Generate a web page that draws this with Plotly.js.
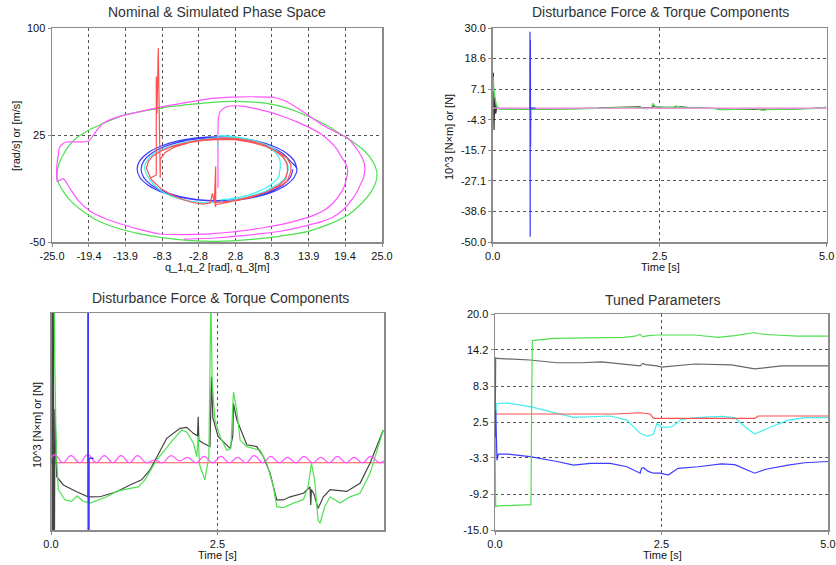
<!DOCTYPE html>
<html><head><meta charset="utf-8">
<script src="https://cdn.plot.ly/plotly-3.0.1.min.js"></script>
<style>html,body{margin:0;padding:0;background:#fff;}#chart{width:836px;height:565px;}</style>
</head><body><div id="chart"></div>
<script>
// ---------- Plot 1: phase space ----------
const phXTicks = [-25.0,-19.4,-13.9,-8.3,-2.8,2.8,8.3,13.9,19.4,25.0];
const phYTicks = [-50,25,100];
const phGreenX = [-0.3,2.5,5,7.3,10.5,13.8,16.5,18.9,20.8,22.4,23.6,24.2,24.1,23.4,22,19.9,17,13.8,9.5,4.7,-0.05,-4.5,-8.6,-12.2,-15.2,-18.2,-20.3,-22.1,-23.3,-24.1,-24.2,-23.9,-23.3,-22.5,-21.3,-19.7,-17.7,-14.2,-11.5,-8.6,-4.5,-0.3];
const phGreenY = [48.1,48.5,48.2,47.4,44,38.1,32,25.2,19.5,13.6,6.5,-0.4,-7.5,-14.5,-22.5,-30.9,-37.5,-42.5,-46,-48.4,-49.5,-48.8,-46.7,-43.8,-40.2,-34.8,-28.5,-21.5,-14.5,-7.5,-0.4,5.5,11.2,17,22.9,27.7,32.2,38.8,41.5,43.9,46.3,48.1];
const phMagX = [0.15,0.15,0.15,0.2,0.5,1.3,2.5,4,5.8,8,10,12.2,14.1,15.8,17,18.1,18.8,19.5,19.8,19.6,19.2,18.5,17.5,16.3,14.8,12.5,10,7,4,1,-2,-5,-8.6,-11.5,-14.2,-17,-19.2,-21,-22.3,-23.3,-24.2,-24.3,-24.2,-24.0,-23.9,-23.3,-22.8,-19.5,-18.7,-18,-17.2,-15.2,-12,-8.6,-5,-1,2.4,5.5,8.3,10,12,14.1,16,18,19.8,21.2,22.1,22.4,22.2,21.7,21.2,20.5,19.2,17.6,16,14,12,9.8,7,4,-0.3,-5];
const phMagY = [-12,0,20,36,41.5,44.5,45.5,45,43.5,41,38,34,30,25.5,21,15.5,10,5,-0.2,-6,-12,-17.5,-23,-27.5,-31,-34.5,-37.5,-40,-42,-43.5,-44.5,-44.8,-44.4,-41.5,-37.9,-33.5,-28.5,-21,-12.2,-5.6,-7.5,0,6.6,12.5,15.9,19,20.1,20.6,25.2,29.5,33.4,37.4,41,44.5,47.5,50.5,51.6,51.8,51.5,49.5,44.5,38,32,27,22.9,15,8,1.9,-5,-10,-15,-20,-27,-32.5,-35.5,-38,-40.3,-42.3,-44,-45.5,-47.2,-48];
const phBlueX = [12.1,11.69,10.48,8.55,6.05,3.13,0,-3.13,-6.05,-8.55,-10.48,-11.69,-12.1,-11.69,-10.48,-8.55,-6.05,-3.13,0,3.13,6.05,8.55,10.48,11.69,12.1,11.11,9.96,8.13,5.75,2.98,0,-2.98,-5.75,-8.13,-9.96,-11.11,-11.5,-11.11,-9.96,-8.13,-5.75,-2.98,0,2.98,5.75,8.13,9.96,11.11,11.5];
const phBlueY = [1.2,7.03,12.45,17.11,20.69,22.94,23.7,22.94,20.69,17.11,12.45,7.03,1.2,-4.63,-10.05,-14.71,-18.29,-20.54,-21.3,-20.54,-18.29,-14.71,-10.05,-4.63,1.2,6.7,12.0,16.55,20.05,22.25,23.0,22.25,20.05,16.55,12.0,6.7,1.0,-4.7,-10.0,-14.55,-18.05,-20.25,-21.0,-20.25,-18.05,-14.55,-10.0,-4.7,1.0];
const phCyanX = [0.15,0.15,0.5,1.8,3,5,7,8.6,9.8,10.5,10.8,10.6,10.2,9.4,8.5,7.3,6,4.4,2.7,0.8,-1,-3,-5,-7,-8.5,-9.7,-10.5,-10.9,-10.9,-10.4,-9.5,-8,-6,-4,-2,0,1.5,3,5,6.5,8,9,9.5,9.6,9.5,9.3,8.5,7.5,6,4,2.2,0.5];
const phCyanY = [16,24,24.5,24.2,23.5,21.8,19,15.3,11,6.5,2,-2,-6,-9,-11.5,-14.5,-16.5,-18.7,-20.4,-21.8,-22.5,-22,-20.5,-17.7,-14,-9,-4,0,4.2,8.3,12,15.5,18.5,20.5,22,23,23.3,23,21.2,19,15.8,12,8,4,-0.5,-5,-8.5,-12,-15,-18,-19.6,-20.5];
const phRedX = [-10.0,-9.2,-9.2,-9.1,-8.9,-8.8,-8.6,-8.6,-7.8,-6.5,-4.1,-2,-0.05,2.7,5.2,7.3,9.2,10.6,11.2,11.2,10.9,10.6,9.8,8.8,7.6,6.3,4.3,2.2,0.8,-0.3,-0.2,-0.2,-0.4,-0.7,-1.0,-2.1,-3.7,-5.1,-7,-8.6,-10,-10.7,-10.4,-9.8,-8.5,-6.8,-5,-3,-1,1,3,5,7,8.8,10,10.6,10.7,10.4,9.3,7.5,5.3,3,-0.5];
const phRedY = [-5,-3,66,40,86,60,-5,8,13,16.5,19.8,21.2,21.7,21.7,19.8,17.1,13.2,8.9,4,-0.4,-4,-7.5,-10,-12.2,-14.8,-16.8,-19.3,-21.5,-23,-23.8,-25.5,3,-22,-16,-22.5,-23.4,-22.3,-20.4,-16.8,-12.2,-6,1.9,6.5,10,13.8,17,19.2,21,22.2,23,22.5,21,18.5,14,9.5,5,0,-6,-10.5,-15,-18.5,-21,-22.5];

// ---------- Plots 2 & 3: disturbance components (same data, plot 3 zoomed) ----------
const dYTicks = [30.0,18.6,7.1,-4.3,-15.7,-27.1,-38.6,-50.0];
const tTicks = [0,2.5,5];
const dRedT = [0,5];
const dRedY = [0,0];
const dBlueT = [0.555,0.558,0.561,0.564,0.567,0.57,0.64];
const dBlueY = [0,28.6,-48,25.5,-14.4,0.05,0.05];
const dBlackT = [0,0.01,0.02,0.03,0.045,0.06,0.086,0.185,0.386,0.536,0.555,0.56,0.565,0.57,0.736,0.986,1.186,1.36,1.486,1.587,1.737,1.937,2.037,2.137,2.2,2.21,2.22,2.287,2.387,2.41,2.43,2.51,2.69,2.73,2.74,2.79,2.94,3.09,3.19,3.29,3.39,3.49,3.59,3.79,3.89,3.9,3.91,3.95,4.01,4.09,4.19,4.44,4.64,4.79,4.99];
const dBlackY = [0,13.3,-8.1,4,-2,0.6,-0.156,-0.248,-0.323,-0.379,-0.38,0.11,-0.45,-0.38,-0.379,-0.323,-0.248,-0.19,-0.08,0.067,0.272,0.384,0.395,0.328,0.30,0.514,0.25,0.217,0.18,0.96,0.5,0.29,0.16,0.3,0.66,0.48,0.20,0.18,0.067,-0.118,-0.415,-0.415,-0.38,-0.34,-0.27,-0.47,-0.3,-0.35,-0.51,-0.38,-0.30,-0.32,-0.23,-0.006,0.365];
const dGreenT = [0,0.008,0.016,0.024,0.04,0.055,0.065,0.08,0.11,0.21,0.31,0.39,0.485,0.586,0.836,0.986,1.186,1.31,1.41,1.587,1.787,1.96,2.04,2.14,2.19,2.21,2.23,2.31,2.37,2.40,2.42,2.46,2.54,2.64,2.7,2.74,2.79,2.84,2.94,3.14,3.24,3.34,3.39,3.49,3.64,3.79,3.86,3.91,3.96,4.01,4.04,4.11,4.19,4.34,4.49,4.64,4.79,4.99];
const dGreenY = [0,11.8,7,6.2,3,1.2,0.59,0.1,-0.30,-0.415,-0.43,-0.37,-0.43,-0.45,-0.379,-0.32,-0.285,-0.27,-0.19,0.03,0.217,0.365,0.34,0.217,0.067,0.3,-0.02,-0.19,0.07,1.85,0.9,0.48,0.29,0.14,0.16,0.79,0.58,0.25,0.18,0.14,-0.006,-0.27,-0.49,-0.5,-0.45,-0.41,-0.27,-0.006,-0.2,-0.64,-0.675,-0.49,-0.38,-0.45,-0.38,-0.34,-0.118,0.365];
const dMagT = [0,0.06,0.18,0.30,0.43,0.55,0.68,0.80,0.93,1.05,1.18,1.30,1.43,1.55,1.68,1.80,1.93,2.05,2.18,2.30,2.43,2.55,2.68,2.80,2.93,3.05,3.18,3.30,3.43,3.55,3.68,3.80,3.93,4.05,4.18,4.30,4.43,4.55,4.68,4.80,4.93,5.0];
const dMagY = [0.05,0.09,0.0,0.08,0.0,0.09,0.0,0.08,0.0,0.08,0.0,0.08,0.0,0.03,0.0,0.08,0.02,0.06,0.0,0.07,0.0,0.07,0.0,0.06,0.0,0.08,0.0,0.07,0.0,0.06,0.0,0.07,0.0,0.06,0.0,0.07,0.0,0.06,0.0,0.07,0.0,0.02];

// ---------- Plot 4: tuned parameters ----------
const pYTicks = [20.0,14.2,8.3,2.5,-3.3,-9.2,-15.0];
const pGreenT = [0,0.01,0.03,0.3,0.54,0.55,0.56,0.875,1.5,1.93,2.1,2.18,2.22,2.3,2.43,2.6,3.0,3.35,3.6,3.9,3.95,4.2,4.55,5.0];
const pGreenY = [0,-11.2,-11.1,-11.0,-10.9,5,15.7,16.05,16.1,16.2,16.4,16.7,16.3,16.5,16.6,16.6,16.6,16.2,16.5,17.0,16.8,16.6,16.4,16.4];
const pBlackT = [0,0.01,0.03,0.525,0.93,1.3,1.6,1.86,2.18,2.22,2.26,2.43,2.5,3.0,3.55,3.9,4.3,5.0];
const pBlackY = [-3,12.9,12.8,12.55,12.1,12.1,12.25,12.0,11.6,12.0,11.8,11.6,11.4,11.9,11.75,11.1,11.6,11.6];
const pCyanT = [0,0.02,0.05,0.18,0.525,0.93,1.18,1.73,1.98,2.18,2.28,2.38,2.43,2.5,2.65,2.8,3.05,3.4,3.6,3.75,3.9,4.15,4.4,4.65,5.0];
const pCyanY = [0,5.5,5.5,5.6,5.0,3.9,3.25,3.47,2.8,0.66,0.2,0.5,2.3,1.64,1.7,2.94,3.2,3.4,3.2,1.74,0.55,1.74,2.8,3.2,3.2];
const pRedT = [0,1.8,2.18,2.33,2.38,3.9,3.95,5.0];
const pRedY = [3.8,3.8,4.0,3.8,3.1,3.1,3.47,3.47];
const pBlueT = [0,0.01,0.03,0.05,0.18,0.525,0.93,1.18,1.43,1.73,1.98,2.18,2.2,2.23,2.3,2.38,2.48,2.6,2.75,3.05,3.4,3.6,3.9,4.05,4.4,4.65,5.0];
const pBlueY = [0,4.4,-3.7,-2.7,-2.7,-3.1,-3.9,-4.5,-4.2,-4.2,-4.75,-5.8,-5.0,-4.9,-5.5,-5.8,-5.8,-6.1,-5.0,-4.75,-4.3,-4.4,-5.8,-5.2,-4.5,-4.1,-3.9];

// ---------- build ----------
const FONT = 'Liberation Sans, Arial, sans-serif';
const C = {green:'#50e050', mag:'#ff55ff', blue:'#3c3cff', cyan:'#40f0f0', red:'#ff5050'};

function ln(x, y, color, xa, ya, shape, w, sm) {
  return {x:x, y:y, type:'scatter', mode:'lines', xaxis:xa, yaxis:ya,
    line:{color:color, width:w||1.2, shape:shape||'linear', smoothing:sm||1},
    hoverinfo:'skip', showlegend:false};
}

const traces = [
  ln(phGreenX, phGreenY, C.green, 'x', 'y', 'spline'),
  ln(phMagX, phMagY, C.mag, 'x', 'y', 'spline', 1.2, 0.6),
  ln(phBlueX, phBlueY, C.blue, 'x', 'y', 'spline'),
  ln(phCyanX, phCyanY, C.cyan, 'x', 'y', 'spline', 1.2, 0.6),
  ln(phRedX, phRedY, C.red, 'x', 'y'),

  ln(dRedT, dRedY, C.red, 'x2', 'y2'),
  ln(dBlackT, dBlackY, '#333333', 'x2', 'y2'),
  ln(dGreenT, dGreenY, C.green, 'x2', 'y2'),
  ln(dMagT, dMagY, '#ff99ff', 'x2', 'y2'),
  ln(dBlueT, dBlueY, C.blue, 'x2', 'y2'),

  ln(dRedT, dRedY, C.red, 'x3', 'y3'),
  ln(dBlackT, dBlackY, '#444444', 'x3', 'y3'),
  ln(dGreenT, dGreenY, C.green, 'x3', 'y3'),
  ln(dMagT, dMagY, C.mag, 'x3', 'y3', 'spline', 1.2, 1.3),
  ln(dBlueT, dBlueY, C.blue, 'x3', 'y3', 'linear', 1.6),

  ln(pCyanT, pCyanY, C.cyan, 'x4', 'y4'),
  ln(pRedT, pRedY, C.red, 'x4', 'y4'),
  ln(pBlackT, pBlackY, '#666666', 'x4', 'y4'),
  ln(pBlueT, pBlueY, C.blue, 'x4', 'y4'),
  ln(pGreenT, pGreenY, C.green, 'x4', 'y4')
];

const tickFont = {family:FONT, size:11, color:'#111'};
function ax(domain, range, anchor, tickvals, digits, extra) {
  return Object.assign({
    domain:domain, range:range, anchor:anchor, autorange:false,
    tickmode:'array', tickvals:tickvals,
    ticktext:tickvals.map(v => digits === null ? String(v) : v.toFixed(digits)),
    showgrid:true, gridcolor:'#555', griddash:'dot', gridwidth:1,
    zeroline:false, showline:true, mirror:true, linecolor:'#8c8c8c', linewidth:1.5,
    ticks:'outside', ticklen:3, tickcolor:'#8c8c8c', tickfont:tickFont, fixedrange:true
  }, extra || {});
}

const H = 565, W = 836;
const px = v => v / W, py = v => 1 - v / H;

const layout = {
  width:W, height:H, margin:{l:0, r:0, t:0, b:0},
  paper_bgcolor:'#fff', plot_bgcolor:'#fff', showlegend:false,
  font:{family:FONT, color:'#111'},
  xaxis:  ax([px(52), px(382)], [-25,25], 'y', phXTicks, 1),
  yaxis:  ax([py(242), py(28)], [-50,100], 'x', phYTicks, null),
  xaxis2: ax([px(492.7), px(826.7)], [0,5], 'y2', tTicks, 1),
  yaxis2: ax([py(242), py(28)], [-50,30], 'x2', dYTicks, 1),
  xaxis3: ax([px(51), px(384)], [0,5], 'y3', [0,2.5], 1),
  yaxis3: ax([py(530), py(313)], [-0.75,1.67], 'x3', [0], 1, {showticklabels:false, showgrid:false, ticks:''}),
  xaxis4: ax([px(495), px(828)], [0,5], 'y4', tTicks, 1),
  yaxis4: ax([py(530), py(314)], [-15,20], 'x4', pYTicks, 1),
  annotations: []
};

function note(text, x, y, size, angle, color) {
  layout.annotations.push({text:text, x:px(x), y:py(y), xref:'paper', yref:'paper',
    xanchor:'center', yanchor:'middle', showarrow:false, textangle:angle||0,
    font:{family:FONT, size:size, color:color||'#111'}});
}
note('Nominal &amp; Simulated Phase Space', 217, 12, 14, 0, '#333');
note('Disturbance Force &amp; Torque Components', 660, 12, 14, 0, '#333');
note('Disturbance Force &amp; Torque Components', 220, 298, 14, 0, '#333');
note('Tuned Parameters', 662, 300, 14, 0, '#333');
note('q_1,q_2 [rad], q_3[m]', 217, 267, 11);
note('Time [s]', 660, 267, 11);
note('Time [s]', 218, 555, 11);
note('Time [s]', 662, 555, 11);
note('[rad/s] or [m/s]', 16, 136, 11, -90);
note('10^3 [N×m] or [N]', 449, 137, 11, -90);
note('10^3 [N×m] or [N]', 37, 425, 11, -90);

Plotly.newPlot('chart', traces, layout, {displayModeBar:false, staticPlot:true});
</script></body></html>
